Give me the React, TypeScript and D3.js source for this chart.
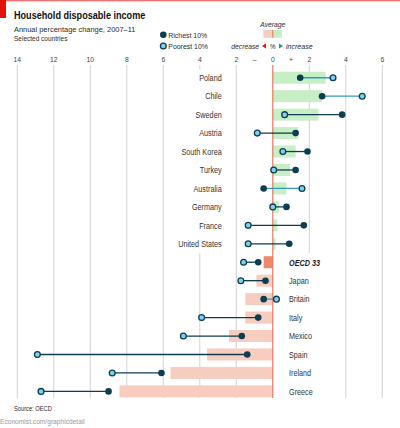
import React from "react";
import * as d3 from "d3";

const countries = ["Poland", "Chile", "Sweden", "Austria", "South Korea", "Turkey", "Australia", "Germany", "France", "United States", "OECD 33", "Japan", "Britain", "Italy", "Mexico", "Spain", "Ireland", "Greece"];
const average = [2.9, 2.7, 2.5, 1.4, 1.25, 0.95, 0.75, 0.35, 0.25, 0.15, -0.5, -0.9, -1.5, -1.5, -2.4, -3.6, -5.6, -8.4];
const richest = [1.5, 2.7, 3.8, 1.25, 1.9, 1.25, -0.5, 0.75, 1.7, 0.9, -0.8, -0.4, -0.5, -0.8, -1.7, -1.4, -6.1, -9.0];
const poorest = [3.3, 4.9, 0.65, -0.85, 0.55, 0.05, 1.6, 0.0, -1.35, -1.35, -1.6, -1.75, 0.2, -3.9, -4.9, -12.9, -8.8, -12.7];
const tickValues = [-14, -12, -10, -8, -6, -4, -2, 0, 2, 4, 6];

const FONT = "'Liberation Sans', Arial, sans-serif";
const DARK = "#0d3d50";
const LIGHT = "#7fd0ec";
const LIGHT_LINE = "#3399c2";
const GREEN = "#c8eec6";
const PINK = "#f6cdbf";
const OECD = "#ec8a6a";
const ZERO = "#e07a64";
const GRID = "#d3d3d3";

type TProps = {
  x: number; y: number; size: number; anchor?: "start" | "middle" | "end";
  fill?: string; italic?: boolean; bold?: boolean; sx?: number; children: React.ReactNode;
};
function T({ x, y, size, anchor = "start", fill = "#2a2a2a", italic, bold, sx = 0.9, children }: TProps) {
  return (
    <text transform={`translate(${x},${y}) scale(${sx},1)`} fontSize={size} textAnchor={anchor}
      fill={fill} fontStyle={italic ? "italic" : "normal"} fontWeight={bold ? "bold" : "normal"}>
      {children}
    </text>
  );
}

export default function App() {
  const W = 400, H = 428;
  const x = d3.scaleLinear().domain([-14, 6]).range([17.3, 382.3]);
  const y = d3.scaleBand<string>().domain(countries).range([68.5, 400.6]).paddingInner(0.35).paddingOuter(0.175);
  const bw = y.bandwidth();
  const splitY = (y("United States")! + y("OECD 33")! + bw) / 2;
  const gridTop = 65, gridBot = 398;
  const r = 3.3;

  return (
    <svg width={W} height={H} style={{ position: "absolute", left: 0, top: 0, background: "#fff" }} fontFamily={FONT}>
      <rect x={0} y={0} width={W} height={1.3} fill="#e3120b" opacity={0.6} />
      <rect x={0} y={0} width={6} height={18} fill="#e3120b" />
      <T x={14} y={19.2} size={10} bold fill="#111" sx={0.91}>Household disposable income</T>
      <T x={14} y={32} size={8} sx={0.93}>Annual percentage change, 2007–11</T>
      <T x={14} y={40.8} size={6.7} sx={0.97}>Selected countries</T>

      {/* legend */}
      <circle cx={163.3} cy={34.7} r={r} fill={DARK} />
      <T x={168.3} y={37.5} size={7.7}>Richest 10%</T>
      <circle cx={163.3} cy={46} r={r - 0.4} fill={LIGHT} stroke={DARK} strokeWidth={1.3} />
      <T x={168.3} y={48.8} size={7.7}>Poorest 10%</T>

      <T x={x(0)} y={26.5} size={7.5} italic anchor="middle">Average</T>
      <rect x={x(0) - 9.4} y={30} width={9.4} height={7.7} fill={PINK} />
      <rect x={x(0)} y={30} width={9.4} height={7.7} fill={GREEN} />
      <line x1={x(0)} x2={x(0)} y1={30} y2={37.7} stroke={ZERO} strokeWidth={1.1} />
      <T x={259} y={49} size={7.5} italic anchor="end">decrease</T>
      <path d="M262,46 L266,43.5 L266,48.5 Z" fill="#e3120b" />
      <T x={x(0)} y={49} size={7} anchor="middle">%</T>
      <path d="M283,46 L279,43.5 L279,48.5 Z" fill="#1a9a88" />
      <T x={286} y={49} size={7.5} italic sx={0.94}>increase</T>

      {/* axis ticks and gridlines */}
      {tickValues.map((t) => (
        <T key={"t" + t} x={x(t)} y={62.3} size={8} fill="#444" anchor="middle" sx={0.85}>{Math.abs(t)}</T>
      ))}
      <T x={x(-1)} y={62.3} size={8} fill="#444" anchor="middle" sx={0.85}>–</T>
      <T x={x(1)} y={62.3} size={8} fill="#444" anchor="middle" sx={0.85}>+</T>
      {tickValues.filter((t) => t !== 0).map((t) => {
        if (t === -4) {
          return (
            <g key={"g" + t}>
              <line x1={x(t)} x2={x(t)} y1={gridTop} y2={69.5} stroke={GRID} strokeWidth={1} />
              <line x1={x(t)} x2={x(t)} y1={splitY} y2={gridBot} stroke={GRID} strokeWidth={1} />
            </g>
          );
        }
        if (t === 2) {
          return <line key={"g" + t} x1={x(t)} x2={x(t)} y1={gridTop} y2={splitY} stroke={GRID} strokeWidth={1} />;
        }
        return <line key={"g" + t} x1={x(t)} x2={x(t)} y1={gridTop} y2={gridBot} stroke={GRID} strokeWidth={1} />;
      })}

      {/* bars */}
      {countries.map((c, i) => {
        const v = average[i];
        const x0 = x(Math.min(0, v)), x1 = x(Math.max(0, v));
        const fill = c === "OECD 33" ? OECD : v >= 0 ? GREEN : PINK;
        return <rect key={"b" + c} x={x0} y={y(c)!} width={x1 - x0} height={bw} fill={fill} />;
      })}
      <line x1={x(0)} x2={x(0)} y1={gridTop} y2={gridBot} stroke={ZERO} strokeWidth={1.2} />

      {/* dumbbells */}
      {countries.map((c, i) => {
        const cy = y(c)! + bw / 2;
        const lineCol = poorest[i] > richest[i] ? LIGHT_LINE : DARK;
        return (
          <g key={"d" + c}>
            <line x1={x(richest[i])} x2={x(poorest[i])} y1={cy} y2={cy} stroke={lineCol} strokeWidth={1.3} />
            <circle cx={x(richest[i])} cy={cy} r={r} fill={DARK} />
            <circle cx={x(poorest[i])} cy={cy} r={r - 0.4} fill={LIGHT} stroke={DARK} strokeWidth={1.3} />
          </g>
        );
      })}

      {/* labels */}
      {countries.map((c, i) => {
        const cy = y(c)! + bw / 2 + 3.3;
        const pos = average[i] >= 0;
        const oecd = c === "OECD 33";
        return (
          <T key={"l" + c} x={pos ? 221.7 : 289} y={cy} size={9.3} sx={0.78} anchor={pos ? "end" : "start"}
            italic={oecd} bold={oecd} fill={oecd ? "#222" : "#333"}>{c}</T>
        );
      })}

      <T x={14} y={410.5} size={6.5} sx={0.88}>Source: OECD</T>
      <T x={0} y={423.5} size={7} sx={0.95} fill="#999">Economist.com/graphicdetail</T>
    </svg>
  );
}
